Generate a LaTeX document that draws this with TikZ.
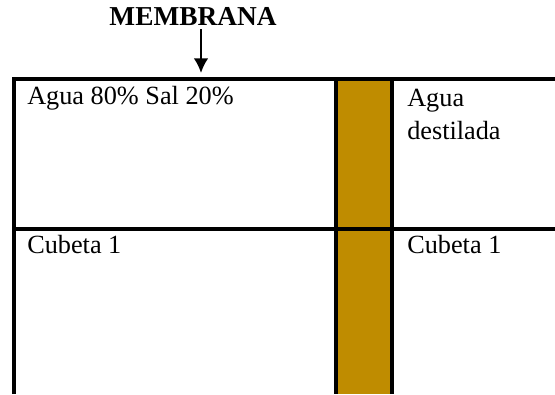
\documentclass[tikz,border=0pt]{standalone}
\usepackage{fontspec}
\setmainfont{Liberation Serif}
\usepackage{tikz}
\usetikzlibrary{arrows.meta}
\usetikzlibrary{positioning}

\definecolor{membrana}{RGB}{191,140,0}

\tikzset{
  celltext/.style={anchor=base west, inner sep=0pt, font=\fontsize{19.7}{24.5}\selectfont, align=left},
  wall/.style={line width=2.4pt}
}

\begin{document}
\begin{tikzpicture}[x=0.75pt, y=-0.75pt, >={Latex[length=11pt,width=11pt]}]
  \useasboundingbox (0, 0) rectangle (555, 394);

  % membrana entre las cubetas
  \fill[membrana] (336, 79) rectangle (392, 394);

  % paredes
  \draw[wall] (14, 394) -- (14, 79) -- (555, 79);
  \draw[wall] (14, 229) -- (555, 229);
  \foreach \x in {336, 392} {
    \draw[wall] (\x, 79) -- (\x, 394);
  }

  % textos
  \node[celltext] (salada) at (27, 104) {Agua 80\% Sal 20\%};
  \node[celltext] (destilada) at (407, 139) {Agua\\destilada};
  \node[celltext] (cubetaA) at (27, 253) {Cubeta 1};
  \node[celltext] (cubetaB) at (407, 253) {Cubeta 1};

  \node[anchor=base, inner sep=0pt, font=\fontsize{20.5}{24}\selectfont\bfseries] (membr) at (193, 25) {MEMBRANA};
  \coordinate (flechaA) at (201, 29);
  \coordinate (flechaB) at (201, 73);
  \draw[line width=1.6pt, ->] (flechaA) -- (flechaB);
\end{tikzpicture}
\end{document}
